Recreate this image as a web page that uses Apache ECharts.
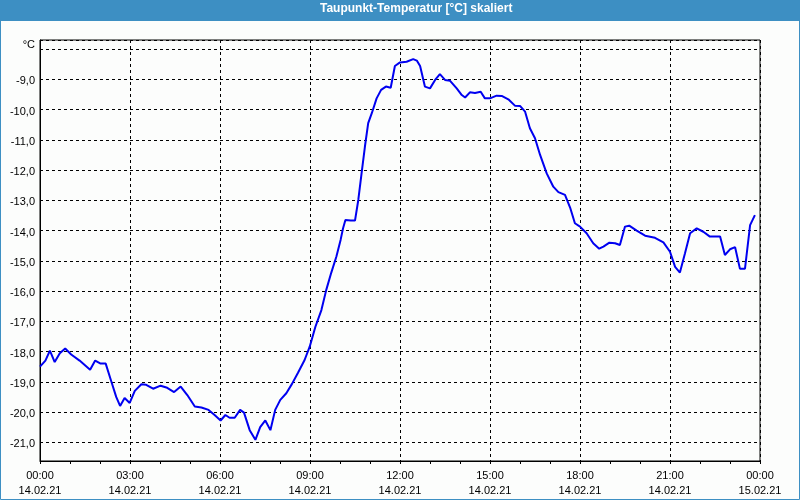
<!DOCTYPE html>
<html>
<head>
<meta charset="utf-8">
<script src="https://cdn.jsdelivr.net/npm/echarts@6/dist/echarts.min.js"></script>
<style>
html,body{margin:0;padding:0;background:#fcfdfc;}
#c{width:800px;height:500px;}
</style>
</head>
<body>
<div id="c"></div>
<script>
var titleText = 'Taupunkt-Temperatur [°C] skaliert';
var hours = [0.0,0.18,0.33,0.49,0.66,0.84,1.04,1.32,1.67,1.84,2.02,2.19,2.38,2.54,2.67,2.82,2.99,3.16,3.38,3.54,3.77,4.02,4.24,4.47,4.69,4.91,5.16,5.38,5.62,5.82,6.02,6.18,6.32,6.49,6.67,6.8,6.99,7.18,7.34,7.51,7.68,7.84,8.01,8.21,8.4,8.6,8.82,8.99,9.18,9.38,9.54,9.71,9.88,10.02,10.1,10.18,10.36,10.5,10.61,10.72,10.83,10.94,11.06,11.22,11.37,11.53,11.69,11.83,12.0,12.22,12.44,12.56,12.67,12.83,13.0,13.17,13.33,13.5,13.67,13.89,14.06,14.17,14.33,14.5,14.69,14.83,15.0,15.22,15.39,15.61,15.83,16.0,16.17,16.33,16.5,16.67,16.89,17.11,17.28,17.5,17.67,17.83,18.0,18.22,18.44,18.64,18.78,18.98,19.17,19.33,19.5,19.64,19.89,20.17,20.5,20.78,21.0,21.17,21.33,21.5,21.67,21.89,22.11,22.33,22.67,22.83,23.0,23.17,23.33,23.5,23.67,23.83];
var temps = [-18.5,-18.3,-17.97,-18.35,-18.06,-17.9,-18.1,-18.3,-18.6,-18.3,-18.4,-18.4,-19.0,-19.5,-19.8,-19.54,-19.7,-19.3,-19.08,-19.1,-19.23,-19.13,-19.2,-19.34,-19.16,-19.44,-19.82,-19.85,-19.93,-20.1,-20.28,-20.1,-20.19,-20.19,-19.93,-20.02,-20.6,-20.92,-20.5,-20.28,-20.6,-19.93,-19.6,-19.38,-19.07,-18.7,-18.28,-17.84,-17.18,-16.63,-15.97,-15.39,-14.86,-14.31,-13.93,-13.65,-13.67,-13.67,-12.99,-12.1,-11.23,-10.45,-10.12,-9.63,-9.35,-9.24,-9.28,-8.56,-8.44,-8.42,-8.33,-8.38,-8.56,-9.24,-9.3,-9.02,-8.83,-9.02,-9.05,-9.3,-9.52,-9.6,-9.43,-9.45,-9.41,-9.63,-9.63,-9.54,-9.55,-9.66,-9.87,-9.88,-10.07,-10.62,-10.95,-11.5,-12.11,-12.55,-12.73,-12.82,-13.24,-13.76,-13.87,-14.09,-14.42,-14.6,-14.53,-14.4,-14.42,-14.48,-13.87,-13.84,-14.0,-14.17,-14.24,-14.39,-14.7,-15.2,-15.39,-14.75,-14.09,-13.93,-14.04,-14.2,-14.2,-14.81,-14.62,-14.55,-15.26,-15.26,-13.82,-13.49];
var timeLabels = ['00:00','03:00','06:00','09:00','12:00','15:00','18:00','21:00','00:00'];
var dateLabels = ['14.02.21','14.02.21','14.02.21','14.02.21','14.02.21','14.02.21','14.02.21','14.02.21','15.02.21'];
var unitLabel = '°C';

var seriesData = hours.map(function(h, i){ return [h, temps[i]]; });
var font = "'Liberation Sans', Arial, sans-serif";
var chart = echarts.init(document.getElementById('c'), null, {renderer:'canvas'});
chart.setOption({
  backgroundColor: '#fcfdfc',
  animation: false,
  graphic: [
    {type:'rect', z:-10, shape:{x:0.5,y:0.5,width:799,height:499}, style:{fill:'none', stroke:'#3d8fc3', lineWidth:1}},
    {type:'rect', z:-9, shape:{x:0,y:0,width:800,height:21}, style:{fill:'#3d8fc3'}},
    {type:'text', z:5, left:320, top:3, style:{text:titleText, fill:'#ffffff', font:"bold 12px 'Liberation Sans', Arial, sans-serif"}}
  ],
  grid: {left:40, right:40, top:40, bottom:39, show:true, borderColor:'#000', borderWidth:1, backgroundColor:'transparent'},
  xAxis: {
    type:'value', min:0, max:24, interval:3,
    axisLine:{show:true, onZero:false, lineStyle:{color:'#000', width:1}},
    axisTick:{show:true, length:3, lineStyle:{color:'#000'}},
    minorTick:{show:true, splitNumber:3, length:3, lineStyle:{color:'#000'}},
    splitLine:{show:true, lineStyle:{color:'#000', type:[3,3], width:1}},
    axisLabel:{
      color:'#000', fontFamily:font, fontSize:11, lineHeight:15, margin:7,
      formatter:function(v){ var k = Math.round(v/3); return timeLabels[k] + '\n' + dateLabels[k]; }
    }
  },
  yAxis: {
    type:'value', min:-21.62, max:-7.7, splitNumber:14,
    axisLine:{show:true, lineStyle:{color:'#000', width:1}},
    axisTick:{show:false},
    splitLine:{show:true, lineStyle:{color:'#000', type:[3,3], width:1}},
    axisLabel:{
      color:'#000', fontFamily:font, fontSize:11, margin:5,
      showMinLabel:false, showMaxLabel:false,
      formatter:function(v){
        if (Math.abs(v - Math.round(v)) > 1e-6) return '';
        if (Math.round(v) === -8) return '{u|' + unitLabel + '}';
        return '{n|' + v.toFixed(1).replace('.', ',') + '}';
      },
      rich:{
        u:{fontFamily:font, fontSize:11, color:'#000', padding:[0,0,8,0]},
        n:{fontFamily:font, fontSize:11, color:'#000', padding:[4,0,0,0]}
      }
    }
  },
  series: [{
    type:'line', data:seriesData, showSymbol:false, symbol:'none',
    lineStyle:{color:'#0000f0', width:2}, clip:true
  }]
});
</script>
</body>
</html>
